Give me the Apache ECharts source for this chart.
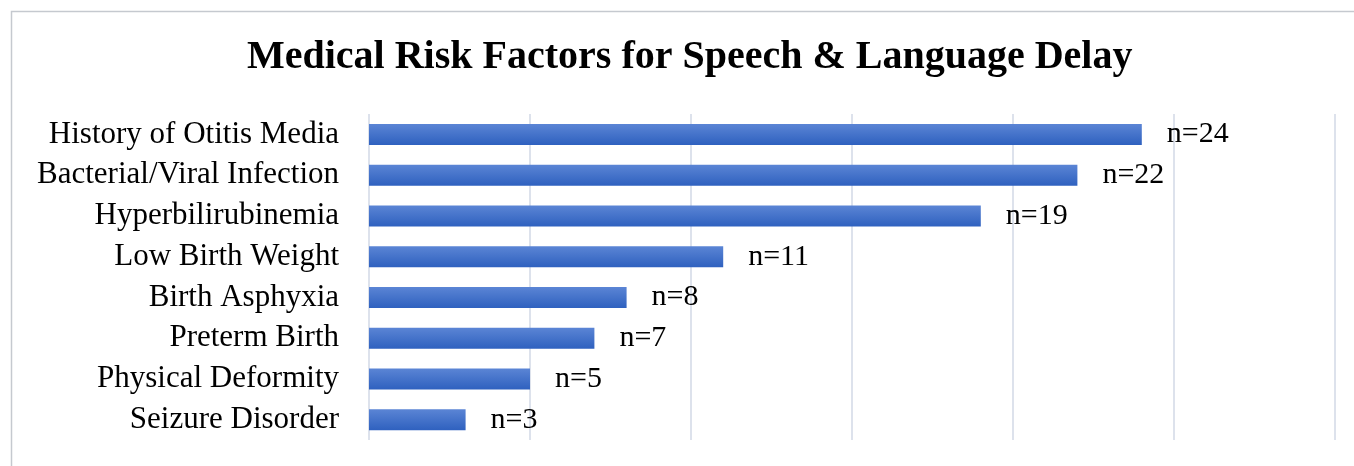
<!DOCTYPE html>
<html><head><meta charset="utf-8">
<script src="https://cdn.jsdelivr.net/npm/echarts@6/dist/echarts.min.js"></script>
<style>html,body{margin:0;padding:0;background:#fff}#c{width:1354px;height:466px}</style>
</head><body><div id="c"></div>
<script>
const categories = ["History of Otitis Media","Bacterial/Viral Infection","Hyperbilirubinemia","Low Birth Weight","Birth Asphyxia","Preterm Birth","Physical Deformity","Seizure Disorder"];
const values = [24,22,19,11,8,7,5,3];
const labels = ["n=24","n=22","n=19","n=11","n=8","n=7","n=5","n=3"];
const title = "Medical Risk Factors for Speech & Language Delay";
const chart = echarts.init(document.getElementById('c'));
const serif = "'Liberation Serif','Times New Roman',serif";
chart.setOption({
  animation:false,
  backgroundColor:'#fff',
  graphic:[{type:'rect',shape:{x:11.5,y:11.5,width:1400,height:500},style:{fill:'none',stroke:'#c5c9cf',lineWidth:1.5},z:-1}],
  title:{text:title,left:242,top:33,textStyle:{fontFamily:serif,fontWeight:'bold',fontSize:40,color:'#000'}},
  grid:{left:369,right:19,top:114,height:326,containLabel:false},
  xAxis:{type:'value',min:0,max:30,interval:5,axisLabel:{show:false},axisLine:{show:false},axisTick:{show:false},
    splitLine:{show:true,lineStyle:{color:'#dde2ec',width:2}}},
  yAxis:{type:'category',data:categories,inverse:true,axisLine:{show:false},axisTick:{show:false},
    axisLabel:{margin:30,fontFamily:serif,fontSize:31,color:'#000'}},
  series:[{type:'bar',data:values,barWidth:21,
    itemStyle:{color:new echarts.graphic.LinearGradient(0,0,0,1,[{offset:0,color:'#5b85d5'},{offset:1,color:'#2f61bf'}])},
    label:{show:true,position:'right',distance:25,fontFamily:serif,fontSize:30,color:'#000',
      formatter:p=>labels[p.dataIndex]}}]
});
</script></body></html>
